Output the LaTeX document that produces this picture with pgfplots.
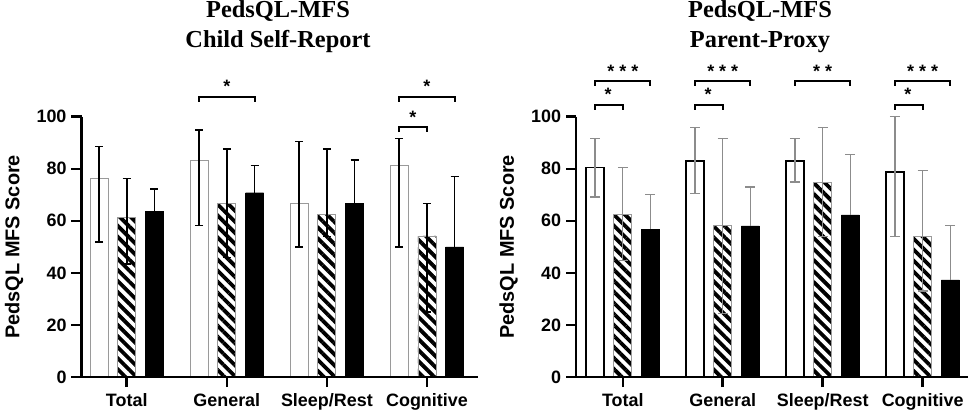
\documentclass[border=0pt]{standalone}
\usepackage{pgfplots}
\pgfplotsset{compat=1.18}
\usepackage{fontspec}
\setmainfont{Liberation Sans}
\newfontfamily\timesfont{Liberation Serif}
\usetikzlibrary{patterns.meta}
\definecolor{errgray}{HTML}{8C8C8C}
\definecolor{edgegray}{HTML}{9A9A9A}
\tikzset{
  brk/.style={line width=2bp, black},
  axl/.style={line width=2.5bp, black},
  star/.style={anchor=base, font=\bfseries\fontsize{18}{18}\selectfont, inner sep=0pt},
  ttl/.style={anchor=base, inner sep=0pt, font=\timesfont\bfseries\fontsize{24.5}{24.5}\selectfont},
}
\pgfplotsset{
  panel/.style={
    anchor=south west, scale only axis, height=260.3bp,
    ymin=0, ymax=100,
    axis lines*=left,
    axis line style={line width=2.5bp, black, -},
    tick align=outside, major tick length=10bp,
    major tick style={line width=2.5bp, black},
    xtick={0,1,2,3}, xticklabels={Total,General,Sleep/Rest,Cognitive},
    ytick={0,20,40,60,80,100},
    minor tick num=0,
    /pgf/number format/assume math mode=true,
    ticklabel style={font=\bfseries\fontsize{18}{20}\selectfont},
    yticklabel style={xshift=-1.5bp},
    xticklabel style={yshift=-3bp},
    ylabel={PedsQL MFS Score},
    ylabel style={font=\bfseries\fontsize{20}{22}\selectfont, at={(rel axis cs:0,0.5)}, anchor=center, yshift=67.5bp},
    clip=false,
  },
  wbar/.style={ybar, bar width=0.18, bar shift=0pt, fill=white},
  hbar/.style={ybar, bar width=0.18, bar shift=0pt, draw=edgegray, line width=0.8bp,
     pattern={Lines[angle=-45,distance=7.8bp,line width=3.8bp]}, pattern color=black},
  bbar/.style={ybar, bar width=0.18, bar shift=0pt, fill=black, draw=black},
  errL/.style={error bars/.cd, y dir=both, y explicit,
     error bar style={line width=1.6bp,black},
     error mark options={rotate=90,line width=1.6bp,black,mark size=4bp}},
  errR/.style={error bars/.cd, y dir=both, y explicit,
     error bar style={line width=1.3bp,errgray},
     error mark options={rotate=90,line width=1.3bp,errgray,mark size=5bp}},
  errLp/.style={error bars/.cd, y dir=plus, y explicit,
     error bar style={line width=1.6bp,black},
     error mark options={rotate=90,line width=1.6bp,black,mark size=4bp}},
  errRp/.style={error bars/.cd, y dir=plus, y explicit,
     error bar style={line width=1.3bp,errgray},
     error mark options={rotate=90,line width=1.3bp,errgray,mark size=5bp}},
}
\begin{document}
\begin{tikzpicture}
% ---------------- Left: Child Self-Report ----------------
\begin{axis}[panel, at={(81.5bp,40bp)}, width=396.5bp, xmin=-0.452, xmax=3.51]
\addplot[hbar, errL] coordinates {
  (0,61.3) += (0,15.0) -= (0,18.0)
  (1,66.7) += (0,20.8) -= (0,20.8)
  (2,62.5) += (0,25.0) -= (0,8.5)
  (3,54.2) += (0,12.5) -= (0,29.2)
};
\addplot[wbar, draw=edgegray, line width=1bp, errL] coordinates {
  (-0.277,76.1) += (0,12.4) -= (0,24.2)
  (0.723,83.3) += (0,11.5) -= (0,25.1)
  (1.723,66.7) += (0,23.8) -= (0,16.7)
  (2.723,81.2) += (0,10.5) -= (0,31.2)
};
\addplot[bbar, errLp] coordinates {
  (0.277,63.7) += (0,8.5)
  (1.277,70.8) += (0,10.4)
  (2.277,66.7) += (0,16.6)
  (3.277,50.0) += (0,27.1)
};
% significance
\draw[brk] (axis cs:0.723,105.7) |- (axis cs:1.277,107.6) -- (axis cs:1.277,105.7);
\node[star] at (axis cs:1,109.3) {*};
\draw[brk] (axis cs:2.723,105.7) |- (axis cs:3.277,107.6) -- (axis cs:3.277,105.7);
\node[star] at (axis cs:3,109.3) {*};
\draw[brk] (axis cs:2.723,94.1) |- (axis cs:3.0,96.0) -- (axis cs:3.0,94.1);
\node[star] at (axis cs:2.86,97.4) {*};
\end{axis}
% ---------------- Right: Parent-Proxy ----------------
\begin{axis}[panel, at={(576bp,40bp)}, width=392bp, xmin=-0.468, xmax=3.454]
\addplot[hbar, errR] coordinates {
  (0,62.6) += (0,17.8) -= (0,17.8)
  (1,58.1) += (0,33.6) -= (0,33.6)
  (2,74.9) += (0,20.9) -= (0,20.9)
  (3,54.1) += (0,25.1) -= (0,21.1)
};
\addplot[wbar, draw=black, line width=1.5bp, errR] coordinates {
  (-0.277,80.4) += (0,11.3) -= (0,11.2)
  (0.723,83.0) += (0,12.8) -= (0,12.5)
  (1.723,83.0) += (0,8.7) -= (0,8.1)
  (2.723,78.8) += (0,21.2) -= (0,24.7)
};
\addplot[bbar, errRp] coordinates {
  (0.277,56.8) += (0,13.3)
  (1.277,58.1) += (0,14.9)
  (2.277,62.3) += (0,23.1)
  (3.277,37.3) += (0,21.0)
};
% significance
\draw[brk] (axis cs:-0.277,111.9) |- (axis cs:0.277,113.8) -- (axis cs:0.277,111.9);
\node[star] at (axis cs:0,115.2) {*\hspace{5bp}*\hspace{5bp}*};
\draw[brk] (axis cs:-0.277,102.6) |- (axis cs:0,104.5) -- (axis cs:0,102.6);
\node[star] at (axis cs:-0.147,106.3) {*};
\draw[brk] (axis cs:0.723,111.9) |- (axis cs:1.277,113.8) -- (axis cs:1.277,111.9);
\node[star] at (axis cs:1,115.2) {*\hspace{5bp}*\hspace{5bp}*};
\draw[brk] (axis cs:0.723,102.6) |- (axis cs:1,104.5) -- (axis cs:1,102.6);
\node[star] at (axis cs:0.853,106.3) {*};
\draw[brk] (axis cs:1.723,111.9) |- (axis cs:2.277,113.8) -- (axis cs:2.277,111.9);
\node[star] at (axis cs:2,115.2) {*\hspace{5bp}*};
\draw[brk] (axis cs:2.723,111.9) |- (axis cs:3.277,113.8) -- (axis cs:3.277,111.9);
\node[star] at (axis cs:3,115.2) {*\hspace{5bp}*\hspace{5bp}*};
\draw[brk] (axis cs:2.723,102.6) |- (axis cs:3,104.5) -- (axis cs:3,102.6);
\node[star] at (axis cs:2.853,106.3) {*};
\end{axis}
% ---------------- axis lines and ticks (frame decoration) ----------------
\draw[axl] (81.5bp,300.3bp) -- (81.5bp,40bp) -- (478bp,40bp);
\foreach \yy in {40,92.06,144.12,196.18,248.24,300.3} {\draw[axl] (81.5bp,\yy bp) -- (71.5bp,\yy bp);}
\foreach \xx in {126.73,226.81,326.89,426.96} {\draw[axl] (\xx bp,40bp) -- (\xx bp,30bp);}
\draw[axl] (576bp,300.3bp) -- (576bp,40bp) -- (968bp,40bp);
\foreach \yy in {40,92.06,144.12,196.18,248.24,300.3} {\draw[axl] (576bp,\yy bp) -- (566bp,\yy bp);}
\foreach \xx in {622.78,722.73,822.68,922.63} {\draw[axl] (\xx bp,40bp) -- (\xx bp,30bp);}
% ---------------- Titles ----------------
\node[ttl] at (278bp,399bp) {PedsQL-MFS};
\node[ttl] at (278bp,369bp) {Child Self-Report};
\node[ttl] at (760bp,399bp) {PedsQL-MFS};
\node[ttl] at (760bp,369bp) {Parent-Proxy};
\path (0,0) rectangle (975bp,417bp);
\end{tikzpicture}
\end{document}
